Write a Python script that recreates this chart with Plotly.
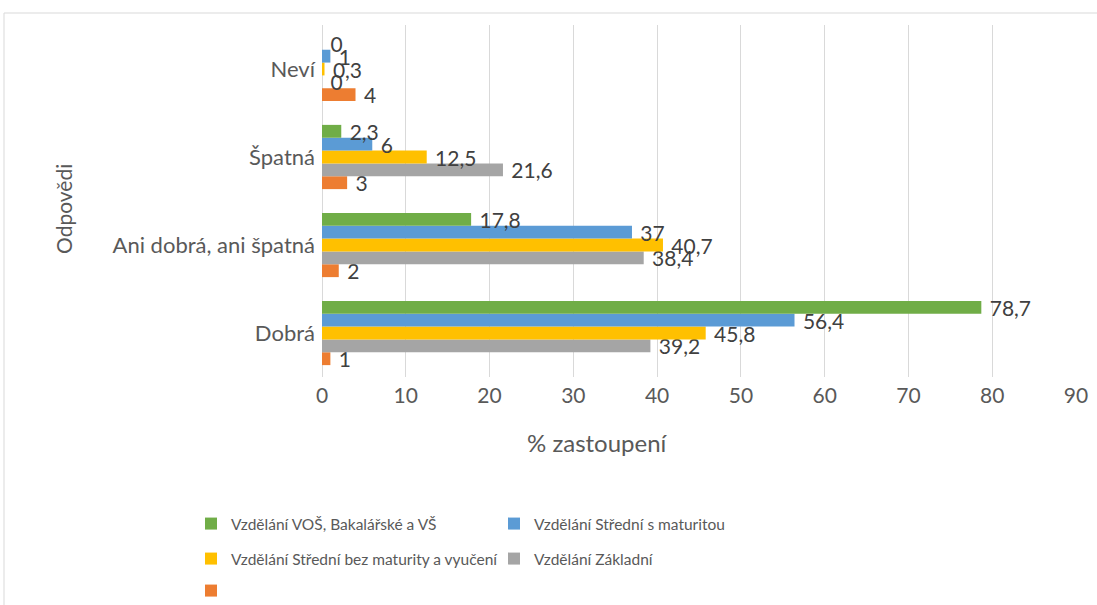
import plotly.graph_objects as go

categories = ["Dobrá", "Ani dobrá, ani špatná", "Špatná", "Neví"]

series_names = [
    "Vzdělání VOŠ, Bakalářské a VŠ",
    "Vzdělání Střední s maturitou",
    "Vzdělání Střední bez maturity a vyučení",
    "Vzdělání Základní",
    " ",
]
vos_vs = [78.7, 17.8, 2.3, 0]
stredni_maturita = [56.4, 37, 6, 1]
stredni_bez = [45.8, 40.7, 12.5, 0.3]
zakladni = [39.2, 38.4, 21.6, 0]
unnamed = [1, 2, 3, 4]

colors = ["#70AD47", "#5B9BD5", "#FFC000", "#A5A5A5", "#ED7D31"]
values = [vos_vs, stredni_maturita, stredni_bez, zakladni, unnamed]
legend_ids = ["legend", "legend", "legend2", "legend2", "legend3"]

FONT = "Lato"

def fmt(v):
    return ("%g" % v).replace(".", ",")

fig = go.Figure()
# add in reverse so the first series sits at the top of each group
for i in reversed(range(5)):
    fig.add_trace(go.Bar(
        y=categories,
        x=values[i],
        name=series_names[i],
        orientation="h",
        marker=dict(color=colors[i], line=dict(width=0)),
        text=[" " + fmt(v) for v in values[i]],
        textposition="outside",
        textfont=dict(family=FONT, size=21, color="#404040"),
        constraintext="none",
        cliponaxis=False,
        legend=legend_ids[i],
        hoverinfo="x+y+name",
    ))

leg_common = dict(
    orientation="h",
    traceorder="reversed",
    entrywidth=258,
    entrywidthmode="pixels",
    font=dict(family=FONT, size=15.5, color="#595959"),
    xref="container",
    yref="container",
    xanchor="left",
    yanchor="middle",
    bgcolor="rgba(0,0,0,0)",
    itemclick=False,
)

fig.update_layout(
    width=1097,
    height=605,
    margin=dict(l=322, r=21, t=25, b=228, autoexpand=False),
    paper_bgcolor="white",
    plot_bgcolor="white",
    barmode="group",
    bargap=0.27,
    bargroupgap=0,
    showlegend=True,
    legend=dict(leg_common, x=191 / 1097, y=1 - 524 / 605),
    legend2=dict(leg_common, x=191 / 1097, y=1 - 559 / 605),
    legend3=dict(leg_common, x=191 / 1097, y=1 - 591 / 605),
    xaxis=dict(
        range=[0, 90],
        dtick=10,
        tick0=0,
        automargin=False,
        showgrid=True,
        gridcolor="#D9D9D9",
        gridwidth=1,
        zeroline=True,
        zerolinecolor="#D9D9D9",
        zerolinewidth=1,
        showline=False,
        ticks="",
        ticklabelstandoff=4,
        tickfont=dict(family=FONT, size=21, color="#595959"),
        fixedrange=True,
    ),
    yaxis=dict(
        type="category",
        categoryorder="array",
        categoryarray=categories,
        automargin=False,
        showgrid=False,
        showline=False,
        ticks="",
        ticklabelstandoff=6,
        tickfont=dict(family=FONT, size=22, color="#595959"),
        fixedrange=True,
    ),
    annotations=[
        dict(text="% zastoupení", xref="paper", yref="paper",
             x=(597 - 322) / 754, y=(377 - 442) / 352,
             xanchor="center", yanchor="middle", showarrow=False,
             font=dict(family=FONT, size=24, color="#595959")),
        dict(text="Odpovědi", xref="paper", yref="paper",
             x=(63 - 322) / 754, y=(377 - 209) / 352,
             xanchor="center", yanchor="middle", showarrow=False,
             textangle=-90,
             font=dict(family=FONT, size=21, color="#595959")),
    ],
    shapes=[
        dict(type="rect", xref="paper", yref="paper",
             x0=(4 - 322) / 754, x1=(1120 - 322) / 754,
             y0=(377 - 640) / 352, y1=(377 - 13) / 352,
             line=dict(color="#D9D9D9", width=1),
             fillcolor="rgba(0,0,0,0)", layer="below"),
    ],
)

fig.write_html(
    "out.html",
    config={"displayModeBar": False},
    post_script="document.body.style.margin='0';document.body.style.overflow='hidden';",
)
